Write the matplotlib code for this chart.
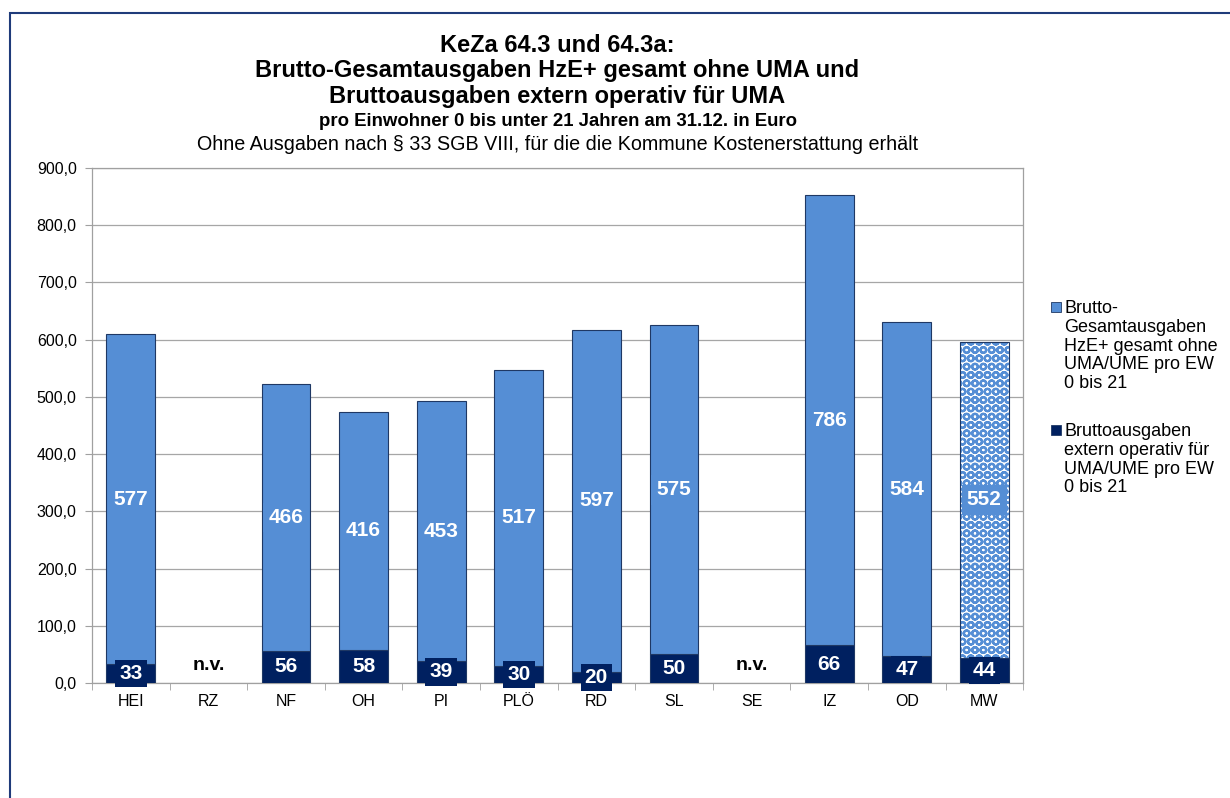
import numpy as np
import matplotlib.pyplot as plt
from matplotlib.patches import Rectangle

plt.rcParams['font.family'] = ['Liberation Sans', 'DejaVu Sans']
plt.rcParams['hatch.linewidth'] = 1.6

# Daten
kreise = ['HEI', 'RZ', 'NF', 'OH', 'PI', 'PLÖ', 'RD', 'SL', 'SE', 'IZ', 'OD', 'MW']
gesamt_ohne_uma = [577, np.nan, 466, 416, 453, 517, 597, 575, np.nan, 786, 584, 552]
extern_uma = [33, np.nan, 56, 58, 39, 30, 20, 50, np.nan, 66, 47, 44]

label_gesamt = 'Brutto-\nGesamtausgaben\nHzE+ gesamt ohne\nUMA/UME pro EW\n0 bis 21'
label_uma = 'Bruttoausgaben\nextern operativ für\nUMA/UME pro EW\n0 bis 21'

hell = '#558ED5'
dunkel = '#002060'
rand = '#1F3864'

fig = plt.figure(figsize=(12.3, 7.98), dpi=100)
ax = fig.add_axes([0.0748, 0.1441, 0.757, 0.6454])

x = np.arange(len(kreise))
g = np.array(gesamt_ohne_uma, dtype=float)
u = np.array(extern_uma, dtype=float)

b_uma = ax.bar(x, u, width=0.63, color=dunkel, edgecolor=rand, linewidth=0.8, zorder=3)
b_ges = ax.bar(x, g, bottom=u, width=0.63, color=hell, edgecolor=rand, linewidth=0.8, zorder=3)

# Mittelwert (MW) gemustert
mw = b_ges.patches[-1]
mw.set_facecolor('white')
mw.set_edgecolor(hell)
mw.set_hatch('OO')
mw.set_linewidth(0)
ax.bar(x[-1:], g[-1:], bottom=u[-1:], width=0.63, fill=False, edgecolor=rand, linewidth=0.8, zorder=4)

# Beschriftungen
for i in range(len(kreise)):
    if np.isnan(g[i]):
        ax.text(x[i], 30, 'n.v.', ha='center', va='center', fontsize=14,
                fontweight='bold', color='black', zorder=5)
        continue
    ax.text(x[i], u[i] + g[i] / 2, '%d' % g[i], ha='center', va='center', fontsize=15,
            fontweight='bold', color='white', zorder=5,
            bbox=dict(boxstyle='square,pad=0.25', facecolor=hell, edgecolor='none'))
    ax.text(x[i], u[i] / 2, '%d' % u[i], ha='center', va='center', fontsize=15,
            fontweight='bold', color='white', zorder=5,
            bbox=dict(boxstyle='square,pad=0.2', facecolor=dunkel, edgecolor='none'))

ax.set_xlim(-0.5, len(kreise) - 0.5)
ax.set_ylim(0, 900)
ax.set_yticks(np.arange(0, 901, 100))
ax.set_yticklabels(['%d,0' % v for v in range(0, 901, 100)], fontsize=11.5)
ax.set_xticks(x)
ax.set_xticklabels(kreise, fontsize=11.5)
ax.set_xticks(np.arange(-0.5, len(kreise), 1), minor=True)
ax.tick_params(axis='x', which='major', length=0, pad=8)
ax.tick_params(axis='x', which='minor', length=5, color='#A0A0A0')
ax.tick_params(axis='y', length=5, color='#A0A0A0', pad=6)
ax.grid(axis='y', color='#A6A6A6', linewidth=0.9, zorder=0)
for s in ax.spines.values():
    s.set_color('#A0A0A0')
    s.set_linewidth(0.9)

# Titel
cx = 0.0748 + 0.757 / 2
fig.text(cx, 1 - 45 / 798, 'KeZa 64.3 und 64.3a:', ha='center', va='center', fontsize=17, fontweight='bold')
fig.text(cx, 1 - 71 / 798, 'Brutto-Gesamtausgaben HzE+ gesamt ohne UMA und', ha='center', va='center', fontsize=17, fontweight='bold')
fig.text(cx, 1 - 97 / 798, 'Bruttoausgaben extern operativ für UMA', ha='center', va='center', fontsize=17, fontweight='bold')
fig.text(cx, 1 - 121 / 798, 'pro Einwohner 0 bis unter 21 Jahren am 31.12. in Euro', ha='center', va='center', fontsize=13.4, fontweight='bold')
fig.text(cx, 1 - 145 / 798, 'Ohne Ausgaben nach § 33 SGB VIII, für die die Kommune Kostenerstattung erhält', ha='center', va='center', fontsize=14.2)

# Legende
for ytop, farbe, txt in [(302, hell, label_gesamt), (425, dunkel, label_uma)]:
    fig.patches.append(Rectangle((1051 / 1230, 1 - (ytop + 10) / 798), 10 / 1230, 10 / 798,
                                 facecolor=farbe, edgecolor=rand, linewidth=0.6,
                                 transform=fig.transFigure))
    fig.text(1064 / 1230, 1 - (ytop - 2) / 798, txt, ha='left', va='top', fontsize=13, linespacing=1.14)

# Rahmen
fig.patches.append(Rectangle((10 / 1230, -0.1), 1.2, 1 - 13 / 798 + 0.1, fill=False,
                             edgecolor='#1F3B7A', linewidth=1.5, transform=fig.transFigure))

fig.savefig('out.png', dpi=100)
